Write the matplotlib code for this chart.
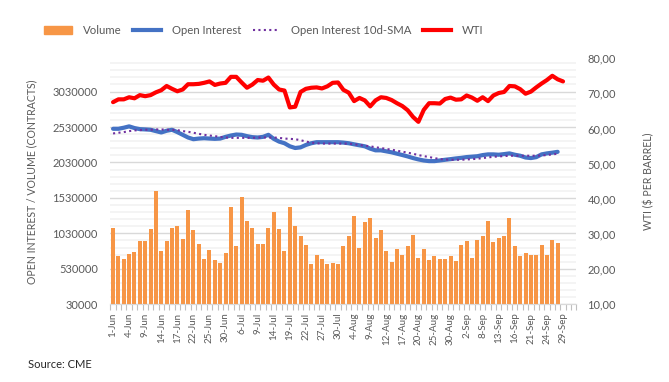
import numpy as np
import pandas as pd
import matplotlib
matplotlib.use("Agg")
import matplotlib.pyplot as plt
from matplotlib.patches import Patch
from matplotlib.lines import Line2D
from matplotlib.ticker import FuncFormatter

plt.rcParams['font.family'] = ['Lato', 'DejaVu Sans']

# trading days Jun 1 - Oct 1 2021 (no Jul 5 / Sep 6)
days = pd.bdate_range("2021-06-01", "2021-10-01")
days = days.drop(pd.to_datetime(["2021-07-05", "2021-09-06"]))

tick_labels = ["1-Jun", "4-Jun", "9-Jun", "14-Jun", "17-Jun", "22-Jun", "25-Jun", "30-Jun",
               "6-Jul", "9-Jul", "14-Jul", "19-Jul", "22-Jul", "27-Jul", "30-Jul",
               "4-Aug", "9-Aug", "12-Aug", "17-Aug", "20-Aug", "25-Aug", "30-Aug",
               "2-Sep", "8-Sep", "13-Sep", "16-Sep", "21-Sep", "24-Sep", "29-Sep"]

volume = [1110, 712, 670, 741, 774, 916, 916, 1096, 1622, 784,
          916, 1110, 1139, 954, 1356, 1082, 883, 670, 802, 660,
          613, 755, 1409, 855, 1537, 1210, 1110, 883, 883, 1110,
          1338, 1096, 788, 1409, 1139, 997, 869, 599, 727, 670,
          599, 613, 599, 855, 997, 1281, 826, 1196, 1253, 968,
          1082, 788, 627, 812, 727, 855, 1011, 684, 812, 656,
          712, 670, 670, 712, 641, 869, 926, 684, 940, 997,
          1204, 911, 968, 997, 1253, 849, 707, 755, 721, 721,
          869, 721, 940, 897]  # thousands

open_interest = [2505, 2505, 2520, 2539, 2515, 2500, 2496, 2491, 2472, 2453,
                 2477, 2491, 2458, 2420, 2382, 2358, 2367, 2372, 2367, 2363,
                 2367, 2391, 2410, 2424, 2420, 2401, 2387, 2382, 2391, 2420,
                 2363, 2324, 2301, 2258, 2234, 2243, 2277, 2301, 2316, 2316,
                 2316, 2316, 2316, 2310, 2301, 2286, 2272, 2258, 2225, 2201,
                 2201, 2187, 2173, 2154, 2135, 2115, 2092, 2073, 2058, 2049,
                 2049, 2058, 2068, 2077, 2087, 2095, 2106, 2112, 2118, 2134,
                 2144, 2144, 2139, 2148, 2158, 2139, 2125, 2100, 2092, 2105,
                 2144, 2158, 2168, 2180]

oi_sma = [2439, 2449, 2458, 2472, 2482, 2486, 2491, 2491, 2496, 2496,
          2491, 2491, 2486, 2472, 2463, 2449, 2434, 2420, 2410, 2401,
          2391, 2382, 2377, 2377, 2377, 2377, 2377, 2382, 2382, 2382,
          2382, 2377, 2367, 2363, 2358, 2344, 2325, 2310, 2301, 2296,
          2296, 2296, 2296, 2296, 2296, 2286, 2277, 2267, 2258, 2244,
          2234, 2220, 2211, 2196, 2182, 2168, 2153, 2134, 2120, 2106,
          2092, 2077, 2072, 2068, 2068, 2068, 2072, 2077, 2082, 2092,
          2101, 2110, 2115, 2120, 2125, 2125, 2125, 2125, 2125, 2125,
          2129, 2134, 2144, 2153]

wti = [67.5, 68.3, 68.3, 68.9, 68.6, 69.5, 69.2, 69.5, 70.3, 70.9,
       72.1, 71.3, 70.6, 71.1, 72.6, 72.6, 72.7, 73.0, 73.4, 72.4,
       72.8, 73.0, 74.7, 74.7, 73.1, 71.6, 72.5, 73.8, 73.6, 74.5,
       72.5, 71.1, 70.8, 66.0, 66.2, 70.4, 71.3, 71.6, 71.7, 71.4,
       72.0, 73.0, 73.1, 71.0, 70.2, 67.8, 68.7, 68.0, 66.3, 68.0,
       68.9, 68.7, 68.1, 67.2, 66.4, 65.2, 63.3, 61.9, 65.3, 67.2,
       67.2, 67.1, 68.4, 68.8, 68.2, 68.3, 69.4, 68.8, 67.9, 68.9,
       67.8, 69.4, 70.1, 70.4, 72.1, 72.0, 71.2, 69.9, 70.5, 71.7,
       72.8, 73.8, 75.0, 74.0, 73.4]

grey = "#595959"

fig = plt.figure(figsize=(6.69, 3.82), dpi=100)
ax = fig.add_axes([0.165, 0.2034, 0.6966, 0.6442])
ax2 = ax.twinx()

vol = np.array(volume) * 1000
oi = np.array(open_interest) * 1000
sma = np.array(oi_sma) * 1000

ax.bar(np.arange(len(vol)), vol - 30000, bottom=30000, width=0.75,
       color="#f79646", zorder=3)
ax.plot(np.arange(len(oi)), oi, color="#4472c4", lw=3, solid_capstyle="round", zorder=4)
ax.plot(np.arange(len(sma)), sma, color="#7030a0", lw=1.5, ls=(0, (1, 1.6)), zorder=5)
ax2.plot(np.arange(len(wti)), wti, color="#ff0000", lw=3, solid_capstyle="round", zorder=4)

ax.set_ylim(30000, 3500000)
ax.set_yticks(np.arange(30000, 3030001, 500000))
ax.yaxis.set_major_formatter(FuncFormatter(lambda v, p: f"{int(round(v))}"))
ax.set_yticks(np.arange(130000, 3500000, 100000), minor=True)
ax.grid(axis="y", which="minor", color="#f2f2f2", lw=1.2, zorder=0)
ax.grid(axis="y", which="major", color="#d9d9d9", lw=1.0, zorder=0)
ax.set_axisbelow(True)

ax2.set_ylim(10, 80)
ax2.set_yticks(np.arange(10, 81, 10))
ax2.yaxis.set_major_formatter(FuncFormatter(lambda v, p: f"{v:.2f}".replace(".", ",")))

ax.set_xlim(-0.5, len(days) - 0.5)
ax.set_xticks(np.arange(0, 85, 3))
ax.set_xticklabels(tick_labels, rotation=90, fontsize=7, color=grey)
ax.set_xticks(np.arange(-0.5, len(days), 1), minor=True)
ax.tick_params(axis="x", which="major", length=0, pad=6)
ax.tick_params(axis="x", which="minor", length=4, color="#bfbfbf", width=0.8)
ax.tick_params(axis="y", which="both", length=0, labelsize=8, labelcolor=grey, pad=9)
ax2.tick_params(axis="y", length=0, labelsize=8, labelcolor=grey, pad=8)

for a in (ax, ax2):
    for s in ("top", "left", "right"):
        a.spines[s].set_visible(False)
    a.spines["bottom"].set_color("#d9d9d9")

ax.set_ylabel("OPEN INTEREST / VOLUME (CONTRACTS)", fontsize=7.6, color=grey)
ax.yaxis.set_label_coords(-0.157, 0.5)
ax2.set_ylabel("WTI ($ PER BARREL)", fontsize=7.6, color=grey, rotation=90)
ax2.yaxis.set_label_coords(1.143, 0.5)

handles = [Patch(color="#f79646"),
           Line2D([], [], color="#4472c4", lw=3),
           Line2D([], [], color="#7030a0", lw=1.5, ls=(0, (1, 1.6))),
           Line2D([], [], color="#ff0000", lw=3)]
fig.legend(handles, ["Volume", "Open Interest", "Open Interest 10d-SMA", "WTI"],
           loc="center", bbox_to_anchor=(264 / 669, 1 - 30 / 382), ncol=4,
           frameon=False, fontsize=8.2, labelcolor=grey, handlelength=2.4,
           handleheight=0.7, columnspacing=1.0, handletextpad=1.0)

fig.text(28 / 669, 1 - 365 / 382, "Source: CME", fontsize=8, color="#262626", va="center")

fig.savefig("out.png", dpi=100)
